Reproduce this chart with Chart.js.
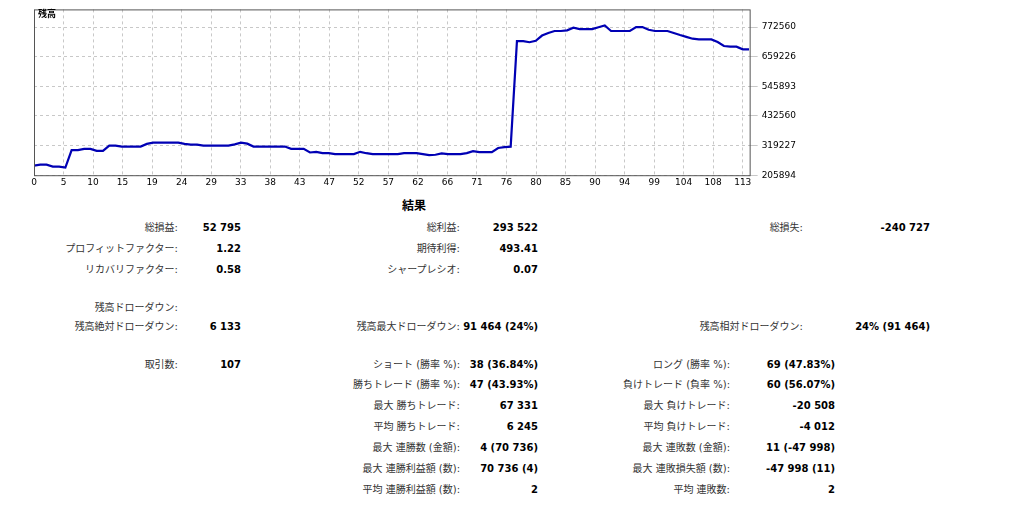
<!DOCTYPE html>
<html><head><meta charset="utf-8">
<script src="https://cdn.jsdelivr.net/npm/chart.js@4/dist/chart.umd.min.js"></script>
<style>
body{margin:0;width:1024px;height:512px;background:#fff;position:relative;overflow:hidden;font-family:"DejaVu Sans","Noto Sans CJK JP",sans-serif;}
#wrap{position:absolute;left:0;top:0;width:800px;height:190px;}
.t{position:absolute;font-size:10px;line-height:12px;white-space:nowrap;}
.l{color:#333;transform:translateX(-100%);}
.v{color:#000;font-weight:bold;transform:translateX(-100%);}
</style></head><body>
<div id="wrap"><canvas id="c"></canvas></div>
<div class="t" style="left:38px;top:8px;font-size:9px;font-weight:bold;color:#000">残高</div>
<div class="t" style="left:402px;top:200px;font-size:12px;font-weight:bold;">結果</div>
<div id="stats"></div>
<script>
const xTickLabels=[0,5,10,15,19,24,29,33,38,43,47,52,57,62,66,71,76,80,85,90,94,99,104,108,113];
const yTickValues=[205894,319227,432560,545893,659226,772560];
const balance=[242400,246000,246000,238600,238600,234800,301600,301600,306600,306600,299000,299000,319200,319200,315400,315400,315400,315400,325500,330500,
330500,330500,330500,330500,325500,323000,323000,319200,319200,319200,319200,319200,324000,330500,326500,315400,315400,315400,315400,315400,
315400,306600,306600,306600,292800,295300,290200,290200,286500,286500,286500,286500,295300,290000,286500,286500,286500,286500,286500,290200,
290200,290200,286500,282700,284000,289000,286500,286500,286500,290200,297800,294000,294000,294000,310000,313000,315000,718300,718300,714500,
720000,740000,750000,757300,757300,760000,769900,764900,764900,764900,772000,778700,757300,757300,757300,757300,772500,772500,762000,757300,
757300,757300,749700,742000,735000,728000,725100,725100,725100,715000,700000,697400,697400,687400,687400];
const statRows=[
[178,241,222,"総損益:","52 795"],[460,538,222,"総利益:","293 522"],[803,930,222,"総損失:","-240 727"],
[178,241,243,"プロフィットファクター:","1.22"],[460,538,243,"期待利得:","493.41"],
[178,241,264,"リカバリファクター:","0.58"],[460,538,264,"シャープレシオ:","0.07"],
[178,null,302,"残高ドローダウン:",""],
[178,241,321,"残高絶対ドローダウン:","6 133"],[460,538,321,"残高最大ドローダウン:","91 464 (24%)"],[803,930,321,"残高相対ドローダウン:","24% (91 464)"],
[178,241,359,"取引数:","107"],[460,538,359,"ショート (勝率 %):","38 (36.84%)"],[730,835,359,"ロング (勝率 %):","69 (47.83%)"],
[460,538,379,"勝ちトレード (勝率 %):","47 (43.93%)"],[730,835,379,"負けトレード (負率 %):","60 (56.07%)"],
[460,538,400,"最大 勝ちトレード:","67 331"],[730,835,400,"最大 負けトレード:","-20 508"],
[460,538,421,"平均 勝ちトレード:","6 245"],[730,835,421,"平均 負けトレード:","-4 012"],
[460,538,442,"最大 連勝数 (金額):","4 (70 736)"],[730,835,442,"最大 連敗数 (金額):","11 (-47 998)"],
[460,538,463,"最大 連勝利益額 (数):","70 736 (4)"],[730,835,463,"最大 連敗損失額 (数):","-47 998 (11)"],
[460,538,484,"平均 連勝利益額 (数):","2"],[730,835,484,"平均 連敗数:","2"]
];
const st=document.getElementById('stats');
statRows.forEach(r=>{
 const a=document.createElement('div');a.className='t l';a.style.left=r[0]+'px';a.style.top=r[2]+'px';a.textContent=r[3];st.appendChild(a);
 if(r[1]){const b=document.createElement('div');b.className='t v';b.style.left=r[1]+'px';b.style.top=r[2]+'px';b.textContent=r[4];st.appendChild(b);}
});
const step=113/24;
new Chart(document.getElementById('c'),{
 type:'line',
 data:{datasets:[{data:balance.map((v,i)=>({x:i,y:v})),borderColor:'#0000b4',borderWidth:2.2,pointRadius:0,tension:0,fill:false}]},
 options:{responsive:true,maintainAspectRatio:false,animation:false,
  layout:{padding:{left:34,top:5,right:0,bottom:0}},
  plugins:{legend:{display:false},tooltip:{enabled:false}},
  scales:{
   x:{type:'linear',min:0,max:114.1,
    afterBuildTicks:ax=>{ax.ticks=xTickLabels.map((l,k)=>({value:k*step}));},
    ticks:{autoSkip:false,maxRotation:0,font:{size:9,family:'DejaVu Sans'},color:'#000',padding:2,callback:function(v,i){return String(xTickLabels[i]);}},
    grid:{color:'#c8c8c8',drawTicks:false},border:{display:false,dash:[3,3]}},
   y:{position:'right',min:205894,max:840000,
    afterBuildTicks:ax=>{ax.ticks=yTickValues.map(v=>({value:v}));},
    ticks:{font:{size:9,family:'DejaVu Sans'},color:'#000',padding:4,callback:v=>String(v)},
    grid:{color:'#c8c8c8'},border:{display:false,dash:[3,3]}}
  }
 },
 plugins:[{id:'frame',afterDraw(ch){const g=ch.ctx,a=ch.chartArea;g.save();g.strokeStyle='#555';g.lineWidth=1;g.strokeRect(a.left+0.5,a.top+0.5,a.right-a.left,a.bottom-a.top);g.restore();}}]
});
</script>
</body></html>
